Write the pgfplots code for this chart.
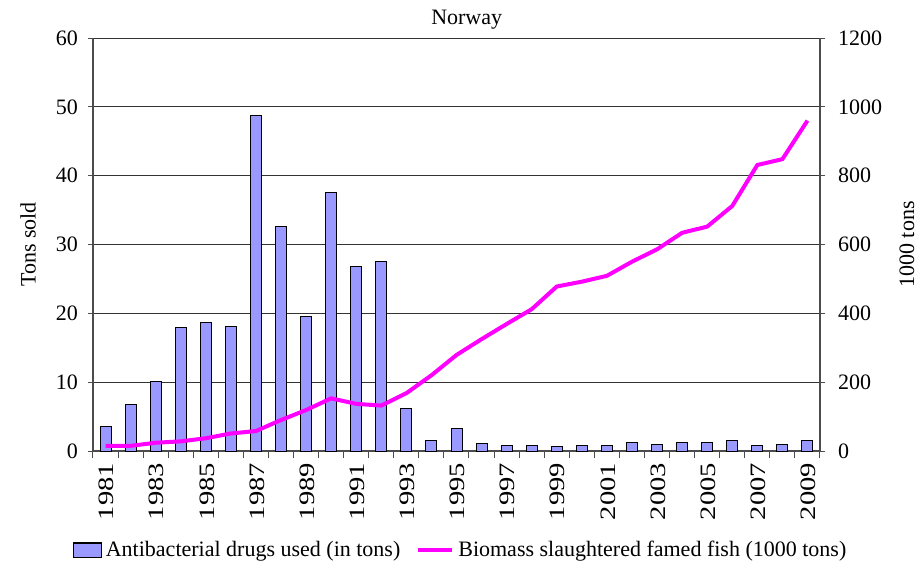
\documentclass[border=0pt]{standalone}
\usepackage{fontspec}
\setmainfont{Liberation Serif}
\usepackage{graphicx}
\usepackage{pgfplots}
\pgfplotsset{compat=1.18}

\definecolor{barblue}{RGB}{153,153,255}
\definecolor{biomass}{RGB}{255,0,255}
\newcommand{\tickfont}{\fontsize{11}{13}\selectfont}

\pgfplotsset{
  common/.style={
    scale only axis,
    width=363.5pt, height=206.5pt,
    xmin=1980.5, xmax=2009.5,
    ymin=0,
    tick align=outside,
    major tick length=2.5pt,
    tick style={black!70, line width=0.5pt},
    axis line style={black!70, line width=0.6pt},
    tick label style={font=\tickfont},
    label style={font=\tickfont},
    /pgf/number format/assume math mode=true,
    /pgf/number format/1000 sep={},
  },
}

\begin{document}
\begin{tikzpicture}
\path[use as bounding box] (-46.5pt,-56pt) rectangle (414.5pt,225.5pt);

\begin{axis}[
  common,
  ymax=60, ytick={0,10,...,60},
  axis x line*=bottom, axis y line*=left,
  ymajorgrids,
  grid style={black!80, line width=0.5pt},
  xtick={1981,1983,...,2009},
  minor xtick={1980.5,1981.5,...,2009.5},
  major x tick style={draw=none},
  minor tick length=3.5pt,
  xticklabel={\scalebox{1.3}[1]{\pgfmathprintnumber{\tick}}},
  xticklabel style={rotate=90, anchor=east, yshift=-0.5pt},
  yticklabel style={xshift=-1.5pt},
  ylabel={Tons sold},
  ylabel style={at={(axis description cs:-0.0894,0.5)}, anchor=center},
  title={Norway},
  title style={at={(axis description cs:0.514,1)}, anchor=center, yshift=3pt, font=\fontsize{11}{13}\selectfont},
]
\addplot[ybar, bar width=5.5pt, fill=barblue, draw=black, line width=0.5pt]
  coordinates {
  (1981,3.5) (1982,6.7) (1983,10.1) (1984,17.9) (1985,18.6) (1986,18.1)
  (1987,48.7) (1988,32.6) (1989,19.5) (1990,37.5) (1991,26.8) (1992,27.5)
  (1993,6.2) (1994,1.5) (1995,3.2) (1996,1.1) (1997,0.8) (1998,0.8)
  (1999,0.6) (2000,0.8) (2001,0.8) (2002,1.3) (2003,1.0) (2004,1.3)
  (2005,1.3) (2006,1.5) (2007,0.8) (2008,1.0) (2009,1.5)
  };
\end{axis}

\begin{axis}[
  common,
  ymax=1200, ytick={0,200,...,1200},
  axis x line=none, axis y line*=right,
  yticklabel style={xshift=3pt},
  ylabel={1000 tons},
  ylabel style={at={(axis description cs:1.1197,0.5)}, anchor=center},
  legend columns=2,
  legend cell align=left,
  legend style={at={(axis description cs:0.507,-0.2397)}, anchor=center,
    draw=none, fill=none, font=\tickfont,
    /tikz/every even column/.append style={column sep=6pt}},
]
\addlegendimage{legend image code/.code={\draw[fill=barblue, draw=black, line width=0.5pt] (0pt,-3.5pt) rectangle (14pt,3.5pt);}}
\addlegendentry{Antibacterial drugs used (in tons)}
\addplot[biomass, line width=2pt, mark=none,
  legend image code/.code={\draw[biomass, line width=2pt] (0pt,0pt) -- (17pt,0pt);}]
  coordinates {
  (1981,15) (1982,15) (1983,24) (1984,28) (1985,37) (1986,51)
  (1987,58) (1988,90) (1989,119) (1990,153) (1991,137) (1992,132)
  (1993,168) (1994,220) (1995,279) (1996,325) (1997,369) (1998,412)
  (1999,478) (2000,492) (2001,509) (2002,550) (2003,586) (2004,634)
  (2005,652) (2006,712) (2007,831) (2008,848) (2009,960)
  };
\addlegendentry{Biomass slaughtered famed fish (1000 tons)}
\end{axis}
\end{tikzpicture}
\end{document}
